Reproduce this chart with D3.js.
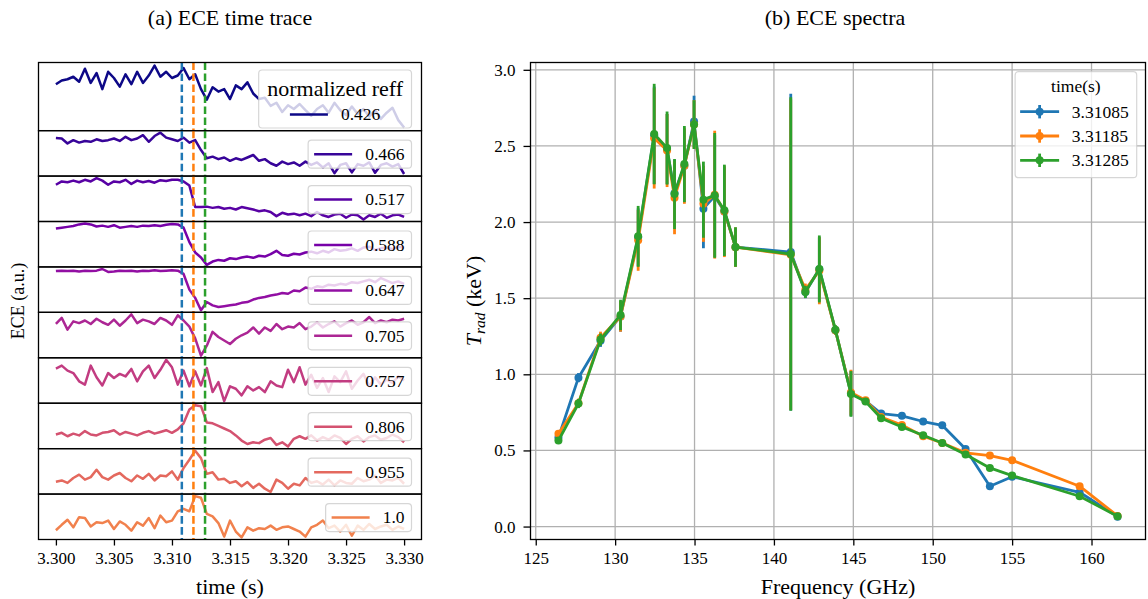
<!DOCTYPE html>
<html>
<head>
<meta charset="utf-8">
<script src="https://cdn.jsdelivr.net/npm/d3@7/dist/d3.min.js"></script>
<style>
  html, body { margin: 0; padding: 0; background: #fff; }
  svg text { font-family: "Liberation Serif", "Times New Roman", Times, serif; fill: #000; }
</style>
</head>
<body>
<script>
// ---------------- (a) ECE time traces ----------------
const traceTimes = [3.3000,3.3005,3.3010,3.3015,3.3020,3.3025,3.3030,3.3035,3.3040,3.3045,
  3.3050,3.3055,3.3060,3.3065,3.3070,3.3075,3.3080,3.3085,3.3090,3.3095,
  3.3100,3.3105,3.3110,3.3115,3.3120,3.3125,3.3130,3.3135,3.3140,3.3145,
  3.3150,3.3155,3.3160,3.3165,3.3170,3.3175,3.3180,3.3185,3.3190,3.3195,
  3.3200,3.3205,3.3210,3.3215,3.3220,3.3225,3.3230,3.3235,3.3240,3.3245,
  3.3250,3.3255,3.3260,3.3265,3.3270,3.3275,3.3280,3.3285,3.3290,3.3295,
  3.3300];

const reffLabels = ["0.426", "0.466", "0.517", "0.588", "0.647", "0.705", "0.757", "0.806", "0.955", "1.0"];

const ece_r0426 = [0.70,0.76,0.78,0.82,0.74,0.95,0.72,0.88,0.62,0.90,
  0.80,0.66,0.86,0.70,0.90,0.72,0.84,1.00,0.82,0.90,
  0.80,0.84,0.96,0.78,0.86,0.62,0.45,0.65,0.58,0.62,
  0.46,0.68,0.62,0.73,0.55,0.46,0.48,0.35,0.40,0.25,
  0.36,0.30,0.38,0.28,0.19,0.30,0.36,0.24,0.40,0.28,
  0.20,0.34,0.22,0.30,0.18,0.28,0.14,0.24,0.32,0.12,
  0.00];
const ece_r0466 = [0.87,0.86,0.74,0.82,0.76,0.80,0.78,0.84,0.80,0.82,
  0.86,0.80,0.90,0.82,0.86,0.94,0.78,0.92,1.00,0.88,
  0.84,0.80,0.88,0.76,0.82,0.58,0.38,0.42,0.36,0.40,
  0.32,0.38,0.34,0.40,0.46,0.32,0.36,0.26,0.20,0.30,
  0.24,0.28,0.20,0.30,0.22,0.28,0.16,0.26,0.02,0.22,
  0.26,0.04,0.24,0.20,0.28,0.03,0.22,0.26,0.18,0.24,
  0.00];
const ece_r0517 = [0.84,0.92,0.90,0.94,0.90,0.96,0.92,1.00,0.94,0.84,
  0.92,0.90,0.96,0.86,0.94,0.90,0.93,0.89,0.95,0.93,
  0.96,0.96,0.92,0.82,0.30,0.30,0.31,0.28,0.30,0.26,
  0.28,0.24,0.30,0.27,0.24,0.20,0.22,0.18,0.08,0.16,
  0.12,0.14,0.10,0.14,0.08,0.18,0.10,0.06,0.12,0.14,
  0.04,0.12,0.10,0.00,0.10,0.06,0.14,0.04,0.10,0.12,
  0.06];
const ece_r0588 = [0.88,0.90,0.92,0.94,0.98,1.00,0.98,0.93,0.95,0.92,
  0.96,0.90,0.92,0.94,0.92,0.95,0.94,0.96,0.94,0.97,
  0.99,0.98,0.90,0.55,0.30,0.18,0.00,0.08,0.12,0.10,
  0.16,0.14,0.18,0.20,0.17,0.22,0.20,0.26,0.34,0.24,
  0.22,0.27,0.25,0.30,0.32,0.28,0.34,0.30,0.38,0.34,
  0.36,0.40,0.34,0.42,0.44,0.36,0.40,0.42,0.38,0.44,
  0.42];
const ece_r0647 = [0.95,0.96,0.95,0.96,0.94,0.96,0.95,0.96,1.00,0.93,
  0.94,0.96,0.95,0.96,0.94,0.96,0.95,0.97,0.95,0.96,
  0.97,0.96,0.88,0.50,0.30,0.00,0.20,0.12,0.08,0.10,
  0.12,0.14,0.18,0.20,0.26,0.30,0.32,0.36,0.38,0.42,
  0.40,0.48,0.46,0.55,0.52,0.58,0.56,0.62,0.60,0.64,
  0.62,0.68,0.66,0.70,0.74,0.68,0.78,0.72,0.66,0.70,
  0.64];
const ece_r0705 = [0.78,0.92,0.65,0.84,0.80,0.86,0.78,0.90,0.82,0.76,
  0.88,0.74,0.86,1.00,0.80,0.88,0.84,0.78,0.92,0.86,
  0.76,0.98,0.86,0.72,0.45,0.05,0.28,0.60,0.48,0.40,
  0.32,0.44,0.52,0.58,0.70,0.56,0.70,0.62,0.78,0.66,
  0.72,0.70,0.80,0.66,0.72,0.82,0.70,0.78,0.84,0.72,
  0.80,0.86,0.76,0.82,0.94,0.80,0.86,0.82,0.88,0.86,
  0.90];
const ece_r0757 = [0.79,0.86,0.74,0.68,0.48,0.40,0.86,0.58,0.38,0.68,
  0.56,0.66,0.60,0.78,0.48,0.72,0.86,0.56,0.76,1.00,
  0.82,0.40,0.74,0.36,0.72,0.38,0.80,0.22,0.46,0.00,
  0.36,0.30,0.14,0.36,0.26,0.34,0.22,0.48,0.38,0.34,
  0.76,0.46,0.82,0.40,0.64,0.32,0.56,0.22,0.60,0.46,
  0.72,0.30,0.50,0.66,0.36,0.58,0.40,0.52,0.44,0.60,
  0.50];
const ece_r0806 = [0.32,0.36,0.28,0.34,0.30,0.40,0.32,0.30,0.36,0.38,
  0.42,0.32,0.38,0.34,0.30,0.36,0.40,0.34,0.38,0.42,
  0.36,0.44,0.58,0.90,1.00,0.98,0.60,0.58,0.52,0.46,
  0.40,0.30,0.18,0.10,0.14,0.12,0.20,0.24,0.08,0.14,
  0.04,0.22,0.28,0.22,0.30,0.18,0.26,0.20,0.30,0.24,
  0.10,0.22,0.28,0.16,0.26,0.30,0.20,0.24,0.32,0.26,
  0.14];
const ece_r0955 = [0.25,0.28,0.22,0.34,0.42,0.30,0.36,0.54,0.36,0.30,
  0.40,0.46,0.34,0.26,0.40,0.32,0.44,0.28,0.40,0.38,
  0.50,0.30,0.58,0.78,1.00,0.82,0.44,0.48,0.30,0.32,
  0.22,0.26,0.14,0.24,0.10,0.20,0.08,0.00,0.30,0.22,
  0.08,0.20,0.16,0.34,0.22,0.26,0.18,0.30,0.16,0.28,
  0.22,0.20,0.34,0.26,0.30,0.40,0.22,0.30,0.28,0.34,
  0.20];
const ece_r1000 = [0.17,0.30,0.42,0.24,0.48,0.46,0.26,0.36,0.34,0.40,
  0.20,0.38,0.30,0.16,0.36,0.28,0.46,0.22,0.52,0.36,
  0.40,0.62,0.68,0.62,0.98,0.94,0.56,0.50,0.34,0.02,
  0.40,0.14,0.00,0.24,0.16,0.22,0.20,0.28,0.18,0.24,
  0.26,0.20,0.14,0.02,0.24,0.30,0.40,0.22,0.28,0.14,
  0.30,0.04,0.28,0.18,0.32,0.20,0.26,0.30,0.18,0.26,
  0.20];

const crashTimes = [3.31085, 3.31185, 3.31285];
const crashLabels = ["3.31085", "3.31185", "3.31285"];
const timeTicks = [3.300, 3.305, 3.310, 3.315, 3.320, 3.325, 3.330];

// ---------------- (b) ECE spectra ----------------
const freqGHz = [126.43, 127.69, 129.08, 130.34, 131.45, 132.46, 133.27, 133.74, 134.36, 134.97,
  135.56, 136.27, 136.88, 137.58, 141.06, 141.98, 142.86, 143.87, 144.85, 145.77,
  146.75, 148.06, 149.40, 150.60, 152.07, 153.60, 155.00, 159.25, 161.64];

const trad_t31085 = [0.585, 0.978, 1.22, 1.38, 1.90, 2.57, 2.48, 2.19, 2.37, 2.66,
  2.088, 2.17, 2.07, 1.835, 1.803, 1.54, 1.69, 1.29, 0.875, 0.825,
  0.742, 0.727, 0.690, 0.665, 0.510, 0.265, 0.327, 0.225, 0.065];
const err_t31085 = [0.02, 0.03, 0.04, 0.10, 0.19, 0.32, 0.23, 0.22, 0.24, 0.17,
  0.26, 0.40, 0.29, 0.12, 1.04, 0.04, 0.21, 0.03, 0.15, 0.02,
  0.02, 0.02, 0.02, 0.02, 0.02, 0.02, 0.02, 0.02, 0.02];

const trad_t31185 = [0.61, 0.81, 1.24, 1.38, 1.88, 2.55, 2.47, 2.16, 2.37, 2.64,
  2.12, 2.18, 2.07, 1.835, 1.785, 1.556, 1.68, 1.29, 0.88, 0.83,
  0.72, 0.667, 0.593, 0.549, 0.484, 0.466, 0.435, 0.265, 0.07];
const err_t31185 = [0.02, 0.03, 0.04, 0.10, 0.20, 0.33, 0.24, 0.24, 0.25, 0.16,
  0.25, 0.42, 0.30, 0.13, 1.02, 0.04, 0.22, 0.03, 0.15, 0.02,
  0.02, 0.02, 0.02, 0.02, 0.02, 0.02, 0.02, 0.02, 0.02];

const trad_t31285 = [0.565, 0.808, 1.228, 1.39, 1.906, 2.578, 2.486, 2.184, 2.381, 2.640,
  2.147, 2.175, 2.077, 1.836, 1.790, 1.541, 1.692, 1.293, 0.871, 0.821,
  0.711, 0.654, 0.600, 0.549, 0.473, 0.385, 0.335, 0.199, 0.068];
const err_t31285 = [0.02, 0.03, 0.04, 0.10, 0.20, 0.33, 0.24, 0.23, 0.25, 0.16,
  0.25, 0.41, 0.30, 0.13, 1.03, 0.04, 0.22, 0.03, 0.15, 0.02,
  0.02, 0.02, 0.02, 0.02, 0.02, 0.02, 0.02, 0.02, 0.02];

const freqTicks = [125, 130, 135, 140, 145, 150, 155, 160];
const tradTicks = [0.0, 0.5, 1.0, 1.5, 2.0, 2.5, 3.0];

// ---------------- drawing ----------------
const traces = [ece_r0426, ece_r0466, ece_r0517, ece_r0588, ece_r0647,
                ece_r0705, ece_r0757, ece_r0806, ece_r0955, ece_r1000];
const spectra = [
  { label: crashLabels[0], values: trad_t31085, errors: err_t31085 },
  { label: crashLabels[1], values: trad_t31185, errors: err_t31185 },
  { label: crashLabels[2], values: trad_t31285, errors: err_t31285 }
];

const tab10 = ["#1f77b4", "#ff7f0e", "#2ca02c"];
const traceColor = i => d3.interpolatePlasma(i / 13);
const TRACE_W = 2.5, DATA_W = 2.8;

const svg = d3.select("body").append("svg")
  .attr("width", 1148).attr("height", 599)
  .style("display", "block");

function frameRect(g) {
  return g.append("rect")
    .attr("rx", 3.5).attr("ry", 3.5)
    .attr("fill", "#fff").attr("fill-opacity", 0.8)
    .attr("stroke", "#cccccc").attr("stroke-opacity", 0.8).attr("stroke-width", 1.2);
}

// ----- panel (a): stacked time traces -----
const LA = { x0: 38.5, x1: 421.5, top: 62.5, bottom: 539.5 };
const heightRatios = [1.5, 1, 1, 1, 1, 1, 1, 1, 1, 1];
const unitH = (LA.bottom - LA.top) / d3.sum(heightRatios);
const xTime = d3.scaleLinear().domain([3.2985, 3.3315]).range([LA.x0, LA.x1]);

function traceLegend(g, i, top, color) {
  const lg = g.append("g");
  const frame = frameRect(lg);
  const right = LA.x1 - 10;
  const handleLen = 38, gap = 13;
  const label = lg.append("text").attr("font-size", 17.5).text(reffLabels[i]);
  const lw = label.node().getComputedTextLength();
  if (i === 0) {
    const title = lg.append("text").attr("font-size", 22).attr("text-anchor", "middle").text("normalized reff");
    const tw = title.node().getComputedTextLength();
    const bw = tw + 17, bx = right - bw, by = top + 7.5, bh = 58;
    const cx = bx + bw / 2;
    title.attr("x", cx).attr("y", by + 25.5);
    const rowW = handleLen + gap + lw, rx = cx - rowW / 2, ry = by + 44.5;
    lg.append("line").attr("x1", rx).attr("x2", rx + handleLen).attr("y1", ry).attr("y2", ry)
      .attr("stroke", color).attr("stroke-width", TRACE_W);
    label.attr("x", rx + handleLen + gap).attr("y", ry + 5.8);
    frame.attr("x", bx).attr("y", by).attr("width", bw).attr("height", bh);
  } else {
    const bw = 6 + handleLen + gap + lw + 7, bx = right - bw, by = top + 9.5, bh = 28;
    const ry = by + 14;
    lg.append("line").attr("x1", bx + 6).attr("x2", bx + 6 + handleLen).attr("y1", ry).attr("y2", ry)
      .attr("stroke", color).attr("stroke-width", TRACE_W);
    label.attr("x", bx + 6 + handleLen + gap).attr("y", ry + 5.8);
    frame.attr("x", bx).attr("y", by).attr("width", bw).attr("height", bh);
  }
}

let cursor = LA.top;
traces.forEach((vals, i) => {
  const h = heightRatios[i] * unitH, top = cursor, bot = cursor + h;
  cursor = bot;
  const [lo, hi] = d3.extent(vals);
  const pad = (hi - lo) * 0.05;
  const y = d3.scaleLinear().domain([lo - pad, hi + pad]).range([bot, top]);
  const g = svg.append("g");
  g.append("path").datum(vals)
    .attr("fill", "none").attr("stroke", traceColor(i)).attr("stroke-width", TRACE_W)
    .attr("stroke-linejoin", "round")
    .attr("d", d3.line().x((d, j) => xTime(traceTimes[j])).y(d => y(d)));
  crashTimes.forEach((t, k) => {
    g.append("line")
      .attr("x1", xTime(t)).attr("x2", xTime(t)).attr("y1", top).attr("y2", bot)
      .attr("stroke", tab10[k]).attr("stroke-width", TRACE_W).attr("stroke-dasharray", "7.6,3.4");
  });
  traceLegend(g, i, top, traceColor(i));
  g.append("rect").attr("x", LA.x0).attr("y", top).attr("width", LA.x1 - LA.x0).attr("height", h)
    .attr("fill", "none").attr("stroke", "#000").attr("stroke-width", 1.3);
});

const axA = svg.append("g").attr("transform", `translate(0,${LA.bottom})`)
  .call(d3.axisBottom(xTime).tickValues(timeTicks).tickFormat(d3.format(".3f"))
    .tickSize(6).tickPadding(6));
axA.attr("font-size", 17);
axA.select(".domain").remove();
axA.selectAll(".tick line").attr("stroke", "#000").attr("stroke-width", 1.3);

svg.append("text").attr("x", (LA.x0 + LA.x1) / 2).attr("y", 593.5)
  .attr("text-anchor", "middle").attr("font-size", 22).text("time (s)");
svg.append("text").attr("transform", `translate(24,${(LA.top + LA.bottom) / 2}) rotate(-90)`)
  .attr("text-anchor", "middle").attr("font-size", 18).text("ECE (a.u.)");
svg.append("text").attr("x", (LA.x0 + LA.x1) / 2).attr("y", 25)
  .attr("text-anchor", "middle").attr("font-size", 22).text("(a) ECE time trace");

// ----- panel (b): spectra with error bars -----
const RB = { x0: 530.5, x1: 1145.5, top: 62.5, bottom: 539.5 };
const xF = d3.scaleLinear().domain([124.67, 163.40]).range([RB.x0, RB.x1]);
const yT = d3.scaleLinear().domain([-0.085, 3.048]).range([RB.bottom, RB.top]);

const gb = svg.append("g");
// grid
gb.selectAll("line.gx").data(freqTicks).join("line")
  .attr("x1", d => xF(d)).attr("x2", d => xF(d)).attr("y1", RB.top).attr("y2", RB.bottom)
  .attr("stroke", "#b0b0b0").attr("stroke-width", 1.3);
gb.selectAll("line.gy").data(tradTicks).join("line")
  .attr("x1", RB.x0).attr("x2", RB.x1).attr("y1", d => yT(d)).attr("y2", d => yT(d))
  .attr("stroke", "#b0b0b0").attr("stroke-width", 1.3);

spectra.forEach((s, k) => {
  const sg = gb.append("g");
  sg.selectAll("line.err").data(s.values).join("line")
    .attr("x1", (d, j) => xF(freqGHz[j])).attr("x2", (d, j) => xF(freqGHz[j]))
    .attr("y1", (d, j) => yT(d - s.errors[j])).attr("y2", (d, j) => yT(d + s.errors[j]))
    .attr("stroke", tab10[k]).attr("stroke-width", DATA_W);
  sg.append("path").datum(s.values)
    .attr("fill", "none").attr("stroke", tab10[k]).attr("stroke-width", DATA_W)
    .attr("stroke-linejoin", "round")
    .attr("d", d3.line().x((d, j) => xF(freqGHz[j])).y(d => yT(d)));
  sg.selectAll("circle").data(s.values).join("circle")
    .attr("cx", (d, j) => xF(freqGHz[j])).attr("cy", d => yT(d)).attr("r", 4)
    .attr("fill", tab10[k]);
});

gb.append("rect").attr("x", RB.x0).attr("y", RB.top).attr("width", RB.x1 - RB.x0).attr("height", RB.bottom - RB.top)
  .attr("fill", "none").attr("stroke", "#000").attr("stroke-width", 1.3);

const axBx = svg.append("g").attr("transform", `translate(0,${RB.bottom})`)
  .call(d3.axisBottom(xF).tickValues(freqTicks).tickFormat(d3.format("d")).tickSize(6).tickPadding(6));
axBx.attr("font-size", 17);
axBx.select(".domain").remove();
axBx.selectAll(".tick line").attr("stroke", "#000").attr("stroke-width", 1.3);

const axBy = svg.append("g").attr("transform", `translate(${RB.x0},0)`)
  .call(d3.axisLeft(yT).tickValues(tradTicks).tickFormat(d3.format(".1f")).tickSize(7).tickPadding(8));
axBy.attr("font-size", 17);
axBy.select(".domain").remove();
axBy.selectAll(".tick line").attr("stroke", "#000").attr("stroke-width", 1.3);

// legend for spectra
const rl = svg.append("g");
const rFrame = frameRect(rl);
const rTitle = rl.append("text").attr("font-size", 17.5).attr("text-anchor", "middle").text("time(s)");
const rLabels = spectra.map(s => rl.append("text").attr("font-size", 17.5).text(s.label));
const rlw = d3.max(rLabels, t => t.node().getComputedTextLength());
const rbw = 5 + 39 + 12.7 + rlw + 8;
const rbx = RB.x1 - 8.8 - rbw, rby = RB.top + 9.2;
rFrame.attr("x", rbx).attr("y", rby).attr("width", rbw).attr("height", 106);
rTitle.attr("x", rbx + rbw / 2).attr("y", rby + 20.5);
spectra.forEach((s, k) => {
  const cy = rby + 40 + k * 24.3, hx0 = rbx + 5, hx1 = hx0 + 39, hm = (hx0 + hx1) / 2;
  rl.append("line").attr("x1", hx0).attr("x2", hx1).attr("y1", cy).attr("y2", cy)
    .attr("stroke", tab10[k]).attr("stroke-width", DATA_W);
  rl.append("line").attr("x1", hm).attr("x2", hm).attr("y1", cy - 6.7).attr("y2", cy + 6.7)
    .attr("stroke", tab10[k]).attr("stroke-width", DATA_W);
  rl.append("circle").attr("cx", hm).attr("cy", cy).attr("r", 4).attr("fill", tab10[k]);
  rLabels[k].attr("x", hx1 + 12.7).attr("y", cy + 5.8);
});

const yLab = svg.append("text")
  .attr("transform", `translate(481,${(RB.top + RB.bottom) / 2}) rotate(-90)`)
  .attr("text-anchor", "middle").attr("font-size", 22);
yLab.append("tspan").attr("font-style", "italic").text("T");
yLab.append("tspan").attr("font-style", "italic").attr("font-size", 15.5).attr("dy", 4).text("rad");
yLab.append("tspan").attr("dy", -4).text(" (keV)");

svg.append("text").attr("x", (RB.x0 + RB.x1) / 2).attr("y", 593.5)
  .attr("text-anchor", "middle").attr("font-size", 22).text("Frequency (GHz)");
svg.append("text").attr("x", (RB.x0 + RB.x1) / 2 - 3).attr("y", 25)
  .attr("text-anchor", "middle").attr("font-size", 22).text("(b) ECE spectra");
</script>
</body>
</html>
